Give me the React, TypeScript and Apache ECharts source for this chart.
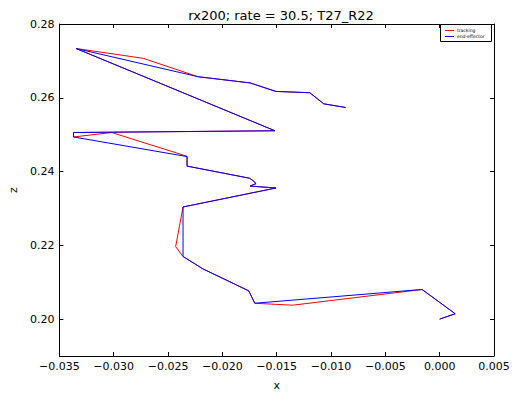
import React, { useEffect, useRef } from "react";
import * as echarts from "echarts";

const titleText = "rx200; rate = 30.5; T27_R22";
const legendNames = ["tracking", "end-effector"];

const xTicks = [-0.035, -0.03, -0.025, -0.02, -0.015, -0.01, -0.005, 0.0, 0.005];
const zTicks = [0.2, 0.22, 0.24, 0.26, 0.28];

const trackX = [
  -0.00865, -0.01067, -0.01195, -0.01507, -0.01745, -0.02224, -0.02728, -0.03346,
  -0.01516, -0.0337, -0.0337, -0.03019, -0.02325, -0.02325, -0.01751, -0.0172,
  -0.0169, -0.01745, -0.01507, -0.02362, -0.0243, -0.02362, -0.02179, -0.01757,
  -0.01702, -0.01354, -0.00162, 0.00143, 0.0,
];
const trackZ = [
  0.25737, 0.25836, 0.26137, 0.26172, 0.26403, 0.26571, 0.27069, 0.27335,
  0.25106, 0.25058, 0.24938, 0.25058, 0.24415, 0.24148, 0.2382, 0.23759,
  0.23674, 0.23607, 0.23554, 0.2304, 0.21964, 0.21698, 0.21362, 0.20766,
  0.2043, 0.20377, 0.20803, 0.20145, 0.2,
];

const effX = [
  -0.00865, -0.01067, -0.01195, -0.01507, -0.01745, -0.02224, -0.03346,
  -0.01516, -0.0337, -0.0337, -0.02325, -0.02325, -0.01751, -0.0172,
  -0.0169, -0.01745, -0.01507, -0.02362, -0.02362, -0.02179, -0.01757,
  -0.01702, -0.00162, 0.00143, 0.0,
];
const effZ = [
  0.25737, 0.25836, 0.26137, 0.26172, 0.26403, 0.26571, 0.27335,
  0.25106, 0.25058, 0.24938, 0.24406, 0.24148, 0.2382, 0.23759,
  0.23674, 0.23607, 0.23554, 0.2304, 0.21698, 0.21362, 0.20766,
  0.2043, 0.20803, 0.20145, 0.2,
];

const FONT = "DejaVu Sans";
const fmt = (v: number, d: number) => {
  const s = Math.abs(v).toFixed(d);
  return v < -1e-9 ? "\u2212" + s : s;
};

export default function App() {
  const ref = useRef<HTMLDivElement>(null);
  useEffect(() => {
    if (!ref.current) return;
    const chart = echarts.init(ref.current, undefined, { renderer: "svg" });
    const axisLine = { show: true, onZero: false, lineStyle: { color: "#000", width: 1 } };
    const tick = (vals: number[]) => ({
      show: true,
      inside: true,
      length: 4,
      customValues: vals,
      lineStyle: { color: "#000", width: 1 },
    });
    const xBase = { type: "value", min: -0.035, max: 0.005, splitLine: { show: false }, axisLine };
    const yBase = { type: "value", min: 0.19, max: 0.28, splitLine: { show: false }, axisLine };
    chart.setOption({
      animation: false,
      backgroundColor: "#fff",
      title: {
        text: titleText,
        left: 276,
        top: 2,
        textAlign: "center",
        textStyle: { fontFamily: FONT, fontSize: 13, fontWeight: "normal", color: "#000", lineHeight: 17 },
      },
      grid: { left: 57.5, right: 19, top: 24, bottom: 34 },
      xAxis: [
        {
          ...xBase,
          position: "bottom",
          name: "x",
          nameLocation: "middle",
          nameGap: 24,
          nameTextStyle: { fontFamily: FONT, fontSize: 11, color: "#000" },
          axisTick: tick(xTicks),
          axisLabel: {
            customValues: xTicks,
            margin: 5,
            fontFamily: FONT,
            fontSize: 11,
            color: "#000",
            formatter: (v: number) => fmt(v, 3),
          },
        },
        {
          ...xBase,
          position: "top",
          axisTick: tick(xTicks),
          axisLabel: { show: false },
        },
      ],
      yAxis: [
        {
          ...yBase,
          position: "left",
          name: "z",
          nameLocation: "middle",
          nameGap: 36,
          nameRotate: 90,
          nameTextStyle: { fontFamily: FONT, fontSize: 11, color: "#000" },
          axisTick: tick(zTicks),
          axisLabel: {
            customValues: zTicks,
            margin: 5,
            fontFamily: FONT,
            fontSize: 11,
            color: "#000",
            formatter: (v: number) => fmt(v, 2),
          },
        },
        {
          ...yBase,
          position: "right",
          axisTick: tick(zTicks),
          axisLabel: { show: false },
        },
      ],
      series: [
        {
          name: legendNames[0],
          type: "line",
          xAxisIndex: 0,
          yAxisIndex: 0,
          data: trackX.map((x, i) => [x, trackZ[i]]),
          showSymbol: false,
          symbol: "none",
          lineStyle: { color: "#ff0000", width: 1 },
          itemStyle: { color: "#ff0000" },
        },
        {
          name: legendNames[1],
          type: "line",
          xAxisIndex: 0,
          yAxisIndex: 0,
          data: effX.map((x, i) => [x, effZ[i]]),
          showSymbol: false,
          symbol: "none",
          lineStyle: { color: "#0000ff", width: 1 },
          itemStyle: { color: "#0000ff" },
        },
      ],
      graphic: [
        {
          type: "rect",
          shape: { x: 440.5, y: 24.5, width: 51, height: 17 },
          style: { fill: "#fff", stroke: "#000", lineWidth: 1 },
          z: 100,
        },
        {
          type: "line",
          shape: { x1: 445, y1: 30.5, x2: 454, y2: 30.5 },
          style: { stroke: "#ff0000", lineWidth: 1 },
          z: 101,
        },
        {
          type: "line",
          shape: { x1: 445, y1: 36.5, x2: 454, y2: 36.5 },
          style: { stroke: "#0000ff", lineWidth: 1 },
          z: 101,
        },
        {
          type: "text",
          x: 457,
          y: 30.5,
          style: { text: legendNames[0], fontFamily: FONT, fontSize: 4.5, fill: "#000", verticalAlign: "middle" },
          z: 101,
        },
        {
          type: "text",
          x: 457,
          y: 36.5,
          style: { text: legendNames[1], fontFamily: FONT, fontSize: 4.5, fill: "#000", verticalAlign: "middle" },
          z: 101,
        },
      ],
    });
    return () => chart.dispose();
  }, []);
  return (
    <div
      ref={ref}
      style={{ position: "fixed", left: 0, top: 0, width: 513, height: 396, background: "#fff" }}
    />
  );
}
